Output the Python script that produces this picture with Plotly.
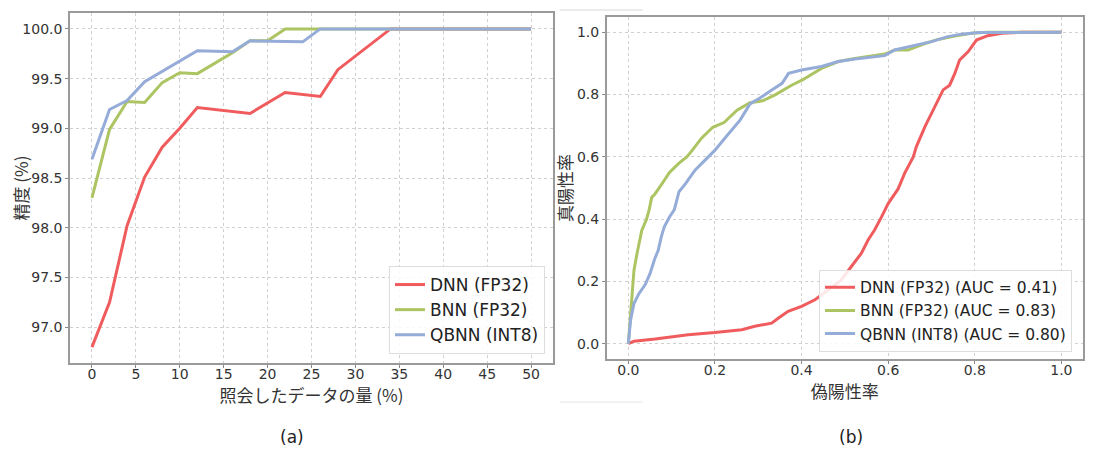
import plotly.graph_objects as go

W, H = 1094, 450
OFF = 8  # page body margin offset


def xp(px):
    return (px - OFF) / W


def yp(py):
    return 1 - (py - OFF) / H


# ---------------- (a) accuracy vs data queried ----------------
dnn_x = [0, 2, 4, 6, 8, 10, 12, 18, 22, 26, 28, 34, 50]
dnn_y = [96.8, 97.25, 98.02, 98.51, 98.81, 99.0, 99.21, 99.15, 99.36, 99.32, 99.59, 100.0, 100.0]
bnn_x = [0, 2, 4, 6, 8, 10, 12, 16, 18, 20, 22, 50]
bnn_y = [98.3, 98.99, 99.27, 99.26, 99.46, 99.56, 99.55, 99.76, 99.88, 99.88, 100.0, 100.0]
qbnn_x = [0, 2, 4, 6, 12, 16, 18, 24, 26, 50]
qbnn_y = [98.69, 99.19, 99.28, 99.47, 99.78, 99.77, 99.88, 99.87, 100.0, 100.0]

# ---------------- (b) ROC curves ----------------
dnn_fpr = [0.0, 0.013, 0.062, 0.138, 0.2, 0.262, 0.292, 0.331, 0.346, 0.369, 0.40, 0.431,
           0.462, 0.492, 0.515, 0.538, 0.554, 0.569, 0.585, 0.60, 0.623, 0.638, 0.658,
           0.665, 0.685, 0.696, 0.708, 0.719, 0.727, 0.742, 0.754, 0.765, 0.785, 0.804,
           0.83, 0.862, 0.908, 1.0]
dnn_tpr = [0.0, 0.008, 0.015, 0.029, 0.036, 0.045, 0.056, 0.066, 0.082, 0.104, 0.12, 0.141,
           0.173, 0.205, 0.248, 0.29, 0.334, 0.366, 0.408, 0.45, 0.497, 0.547, 0.60,
           0.632, 0.697, 0.729, 0.761, 0.793, 0.815, 0.83, 0.868, 0.911, 0.938, 0.975,
           0.989, 0.997, 1.0, 1.0]
bnn_fpr = [0.0, 0.005, 0.009, 0.013, 0.02, 0.026, 0.031, 0.042, 0.048, 0.054, 0.061, 0.076,
           0.095, 0.117, 0.135, 0.147, 0.169, 0.195, 0.221, 0.251, 0.281, 0.31, 0.34,
           0.377, 0.402, 0.446, 0.485, 0.523, 0.562, 0.592, 0.615, 0.646, 0.677, 0.715,
           0.754, 0.792, 0.83, 1.0]
bnn_tpr = [0.0, 0.086, 0.15, 0.236, 0.29, 0.33, 0.364, 0.40, 0.43, 0.47, 0.48, 0.51,
           0.55, 0.58, 0.60, 0.62, 0.66, 0.695, 0.71, 0.75, 0.774, 0.78, 0.80,
           0.83, 0.847, 0.884, 0.906, 0.916, 0.924, 0.93, 0.943, 0.943, 0.96, 0.977,
           0.988, 0.997, 1.0, 1.0]
qbnn_fpr = [0.0, 0.005, 0.013, 0.024, 0.039, 0.05, 0.061, 0.069, 0.076, 0.083, 0.095, 0.106,
            0.117, 0.132, 0.154, 0.177, 0.199, 0.229, 0.258, 0.281, 0.303, 0.326, 0.355,
            0.37, 0.40, 0.446, 0.485, 0.523, 0.562, 0.592, 0.615, 0.66, 0.70, 0.738,
            0.769, 0.81, 1.0]
qbnn_tpr = [0.0, 0.075, 0.129, 0.16, 0.19, 0.225, 0.273, 0.30, 0.343, 0.375, 0.407, 0.43,
            0.488, 0.514, 0.557, 0.59, 0.62, 0.67, 0.718, 0.77, 0.788, 0.81, 0.836,
            0.868, 0.879, 0.89, 0.906, 0.914, 0.92, 0.925, 0.943, 0.956, 0.97, 0.986,
            0.994, 0.999, 1.0]

names_a = ["DNN (FP32)", "BNN (FP32)", "QBNN (INT8)"]
names_b = ["DNN (FP32) (AUC = 0.41)", "BNN (FP32) (AUC = 0.83)", "QBNN (INT8) (AUC = 0.80)"]
colors = ["#f05c5e", "#adc462", "#95abd8"]

fig = go.Figure()
for x, y, n, c in zip([dnn_x, bnn_x, qbnn_x], [dnn_y, bnn_y, qbnn_y], names_a, colors):
    fig.add_trace(go.Scatter(x=x, y=y, name=n, mode="lines", line=dict(color=c, width=3),
                             xaxis="x", yaxis="y", legend="legend"))
for x, y, n, c in zip([dnn_fpr, bnn_fpr, qbnn_fpr], [dnn_tpr, bnn_tpr, qbnn_tpr], names_b, colors):
    fig.add_trace(go.Scatter(x=x, y=y, name=n, mode="lines", line=dict(color=c, width=3),
                             xaxis="x2", yaxis="y2", legend="legend2"))

tickfont = dict(family="DejaVu Sans", size=14, color="#333")
titlefont = dict(family="Noto Sans CJK JP", size=17, color="#333")
common = dict(showline=True, mirror=True, linecolor="#9a9a9a", linewidth=1.5,
              showgrid=True, gridcolor="#d0d0d0", griddash="dot", gridwidth=1,
              ticks="outside", ticklen=3, tickcolor="#888", tickfont=tickfont,
              zeroline=False, automargin=False)

fig.update_layout(
    width=W, height=H, margin=dict(l=0, r=0, t=0, b=0),
    paper_bgcolor="white", plot_bgcolor="white",
    xaxis=dict(domain=[xp(70), xp(553)], range=[-2.5, 52.5], tick0=0, dtick=5,
               ticklabelstandoff=-6,
               title=dict(text="照会したデータの量 (%)", font=titlefont, standoff=0), **common),
    yaxis=dict(domain=[yp(363), yp(13)], range=[96.64, 100.16], tick0=97, dtick=0.5,
               tickformat=".1f",
               title=dict(text="精度 (%)", font=titlefont, standoff=2), **common),
    xaxis2=dict(domain=[xp(606.7), xp(1083)], range=[-0.05, 1.05], tick0=0, dtick=0.2,
                tickformat=".1f", anchor="y2", ticklabelstandoff=-6,
                title=dict(text="偽陽性率", font=titlefont, standoff=0), **common),
    yaxis2=dict(domain=[yp(359.3), yp(16.7)], range=[-0.05, 1.05], tick0=0, dtick=0.2,
                tickformat=".1f", anchor="x2",
                title=dict(text="真陽性率", font=titlefont, standoff=0), **common),
    legend=dict(x=xp(545), y=yp(354), xanchor="right", yanchor="bottom",
                bgcolor="rgba(255,255,255,0.85)", bordercolor="#dddddd", borderwidth=1,
                font=dict(family="DejaVu Sans", size=17, color="#222"), tracegroupgap=0),
    legend2=dict(x=xp(1072), y=yp(351.7), xanchor="right", yanchor="bottom",
                 bgcolor="rgba(255,255,255,0.85)", bordercolor="#dddddd", borderwidth=1,
                 font=dict(family="DejaVu Sans", size=15.5, color="#222"), tracegroupgap=0),
    annotations=[
        dict(text="(a)", x=xp(278), y=yp(437), xref="paper", yref="paper", yanchor="middle",
             showarrow=False, font=dict(family="DejaVu Sans", size=17, color="#222")),
        dict(text="(b)", x=xp(865), y=yp(437), xref="paper", yref="paper", yanchor="middle",
             showarrow=False, font=dict(family="DejaVu Sans", size=17, color="#222")),
    ],
    shapes=[
        dict(type="line", xref="paper", yref="paper", x0=xp(560), x1=xp(643),
             y0=yp(10), y1=yp(10), line=dict(color="#d8d8d8", width=1)),
        dict(type="line", xref="paper", yref="paper", x0=xp(560), x1=xp(643),
             y0=yp(402), y1=yp(402), line=dict(color="#e4e4e4", width=1)),
    ],
)

fig.write_html("out.html")
